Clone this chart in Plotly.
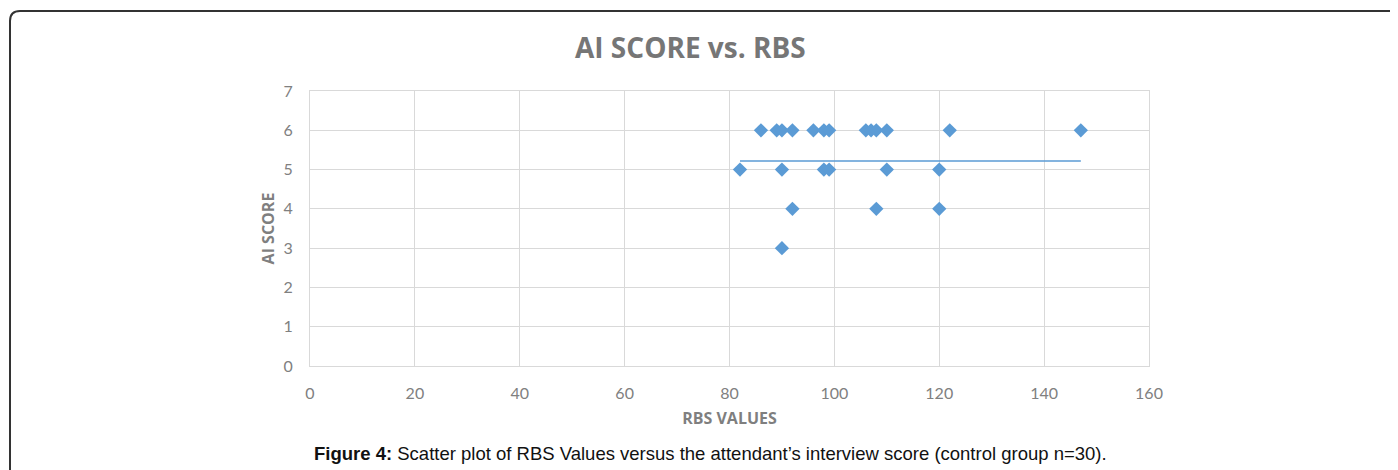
import plotly.graph_objects as go

# Data
rbs_values = [86, 89, 90, 92, 96, 98, 99, 106, 107, 108, 110, 122, 147,
              82, 90, 98, 99, 110, 120,
              92, 108, 120,
              90]
ai_scores = [6, 6, 6, 6, 6, 6, 6, 6, 6, 6, 6, 6, 6,
             5, 5, 5, 5, 5, 5,
             4, 4, 4,
             3]
trend_x = [82, 147]
trend_y = [5.22, 5.22]

x_ticks = [0, 20, 40, 60, 80, 100, 120, 140, 160]
y_ticks = [0, 1, 2, 3, 4, 5, 6, 7]

OFF = 8  # page body margin
W, H = 1398, 470
L, R, T, B = 310 - OFF, 1149 - OFF, 91 - OFF, 366 - OFF

fig = go.Figure()
fig.add_trace(go.Scatter(x=trend_x, y=trend_y, mode="lines",
                         line=dict(color="#5B9BD5", width=1.5),
                         hoverinfo="skip", showlegend=False))
fig.add_trace(go.Scatter(x=rbs_values, y=ai_scores, mode="markers",
                         marker=dict(symbol="diamond", size=11, color="#5B9BD5",
                                     line=dict(width=0)),
                         showlegend=False))

grid = "#D9D9D9"
tickfont = dict(family="Lato, Open Sans, sans-serif", size=16, color="#808080")
titlefont = dict(family="Open Sans, sans-serif", size=16, color="#7F7F7F")
fig.update_xaxes(range=[0, 160], tickvals=x_ticks, showgrid=True, gridcolor=grid,
                 gridwidth=1, zeroline=False, showline=True, linecolor=grid,
                 mirror=True, ticks="outside", ticklen=13, tickcolor="rgba(0,0,0,0)",
                 tickfont=tickfont,
                 title=dict(text="<b>RBS VALUES</b>", standoff=11, font=titlefont))
fig.update_yaxes(range=[0, 7], tickvals=y_ticks, showgrid=True, gridcolor=grid,
                 gridwidth=1, zeroline=False, showline=True, linecolor=grid,
                 mirror=True, ticks="outside", ticklen=13, tickcolor="rgba(0,0,0,0)",
                 tickfont=tickfont,
                 title=dict(text="<b>AI SCORE</b>", standoff=4, font=titlefont))

pw, ph = R - L, B - T
def px(x): return (x - OFF - L) / pw
def py(y): return (B - (y - OFF)) / ph

# outer frame with rounded top-left corner
x0, y0 = px(10), py(11)
rx, ry = 10 / pw, 10 / ph
x1, y1 = px(1420), py(490)
path = (f"M {x0},{y1} L {x0},{y0 - ry} Q {x0},{y0} {x0 + rx},{y0} L {x1},{y0}")
fig.add_shape(type="path", xref="paper", yref="paper", path=path,
              line=dict(color="#333333", width=2))

fig.add_annotation(text="<b>AI SCORE vs. RBS</b>", xref="paper", yref="paper",
                   x=px(690), y=py(47), showarrow=False, xanchor="center", yanchor="middle",
                   font=dict(family="Open Sans, sans-serif", size=28, color="#767676"))
fig.add_annotation(text="<b>Figure 4:</b> Scatter plot of RBS Values versus the attendant\u2019s interview score (control group n=30).",
                   xref="paper", yref="paper", x=px(710), y=py(453), showarrow=False,
                   xanchor="center", yanchor="middle",
                   font=dict(family="Liberation Sans, Arial, sans-serif", size=18.5, color="#111111"))

fig.update_layout(width=W, height=H, margin=dict(l=L, r=W - R, t=T, b=H - B),
                  plot_bgcolor="white", paper_bgcolor="white")

fig.write_html("out.html")
